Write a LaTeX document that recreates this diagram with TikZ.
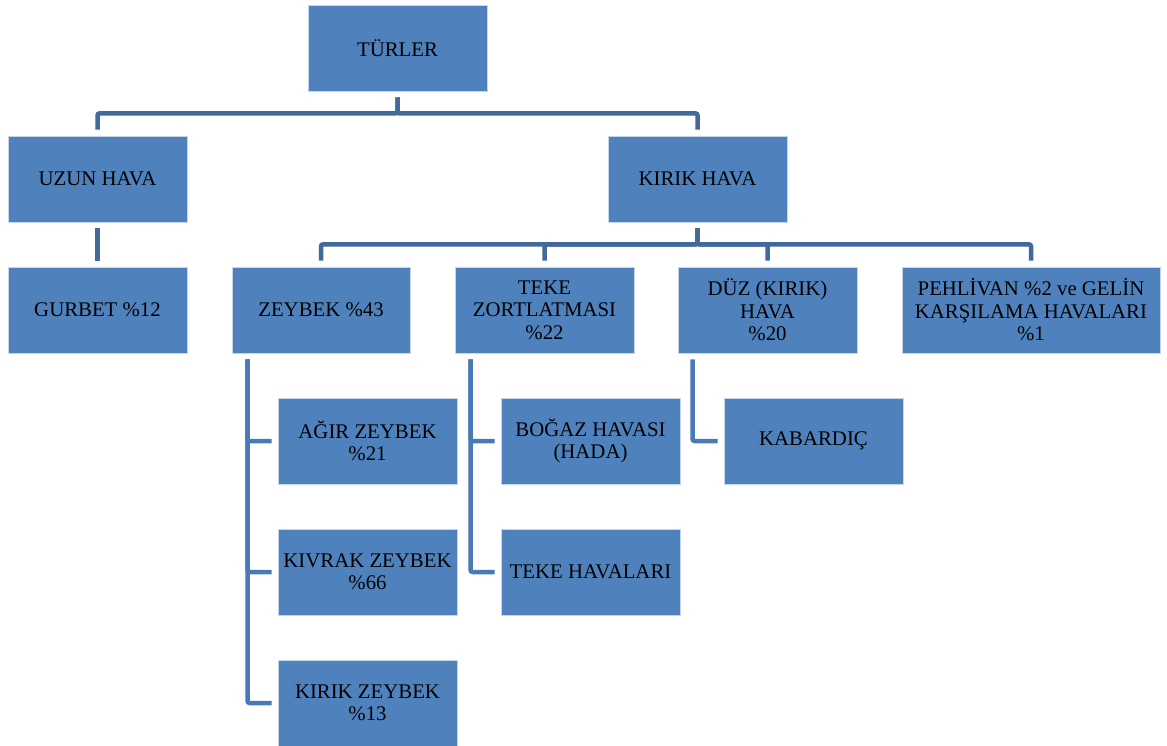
\documentclass[tikz,border=0pt]{standalone}
\usepackage{fontspec}
\setmainfont{Liberation Serif}
\definecolor{boxblue}{HTML}{4F81BD}
\definecolor{boxedge}{HTML}{C5D5EA}
\definecolor{linedark}{HTML}{41699C}
\definecolor{linelight}{HTML}{4A7AB5}
\begin{document}
\begin{tikzpicture}[x=1pt,y=-1pt,
  box/.style={rectangle, fill=boxblue, draw=boxedge, line width=0.8pt, inner sep=0pt,
    minimum width=179pt, minimum height=86pt, align=center,
    font=\fontsize{20.8}{22.5}\selectfont, text=black},
  conn/.style={line width=4.5pt, draw=linedark, rounded corners=2pt, shorten <=6pt, shorten >=6pt},
  side/.style={line width=4.5pt, draw=linelight, rounded corners=2pt, shorten <=6pt, shorten >=6pt}]
\useasboundingbox (0,0) rectangle (1167,745);
\node[box] (turler) at (397.5,48) {TÜRLER};
\node[box] (uzun) at (97.5,179) {UZUN HAVA};
\node[box] (kirik) at (697.5,179) {KIRIK HAVA};
\node[box] (gurbet) at (97.5,310) {GURBET \%12};
\node[box, minimum width=178pt] (zeybek) at (321,310) {ZEYBEK \%43};
\node[box] (teke) at (544.5,310) {TEKE\\ZORTLATMASI\\\%22};
\node[box] (duz) at (767.5,310) {DÜZ (KIRIK)\\HAVA\\\%20};
\node[box, minimum width=258pt] (pehlivan) at (1031,310) {PEHLİVAN \%2 ve GELİN\\KARŞILAMA HAVALARI\\\%1};
\node[box] (agir) at (367.5,441) {AĞIR ZEYBEK\\\%21};
\node[box] (kivrak) at (367.5,572) {KIVRAK ZEYBEK\\\%66};
\node[box] (kirikz) at (367.5,703) {KIRIK ZEYBEK\\\%13};
\node[box] (bogaz) at (590.5,441) {BOĞAZ HAVASI\\(HADA)};
\node[box] (tekeh) at (590.5,572) {TEKE HAVALARI};
\node[box] (kabardic) at (813.5,441) {KABARDIÇ};

\draw[conn] (turler.south) -- ++(0,22) -| (uzun.north);
\draw[conn] (turler.south) -- ++(0,22) -| (kirik.north);
\draw[conn] (uzun.south) -- (gurbet.north);
\foreach \c in {zeybek,teke,duz,pehlivan}
  \draw[conn] (kirik.south) -- ++(0,22) -| (\c.north);
\foreach \c in {agir,kivrak,kirikz}
  \draw[side] ([xshift=16pt]zeybek.south west) |- (\c.west);
\foreach \c in {bogaz,tekeh}
  \draw[side] ([xshift=16pt]teke.south west) |- (\c.west);
\draw[side] ([xshift=15pt]duz.south west) |- (kabardic.west);
\end{tikzpicture}
\end{document}
